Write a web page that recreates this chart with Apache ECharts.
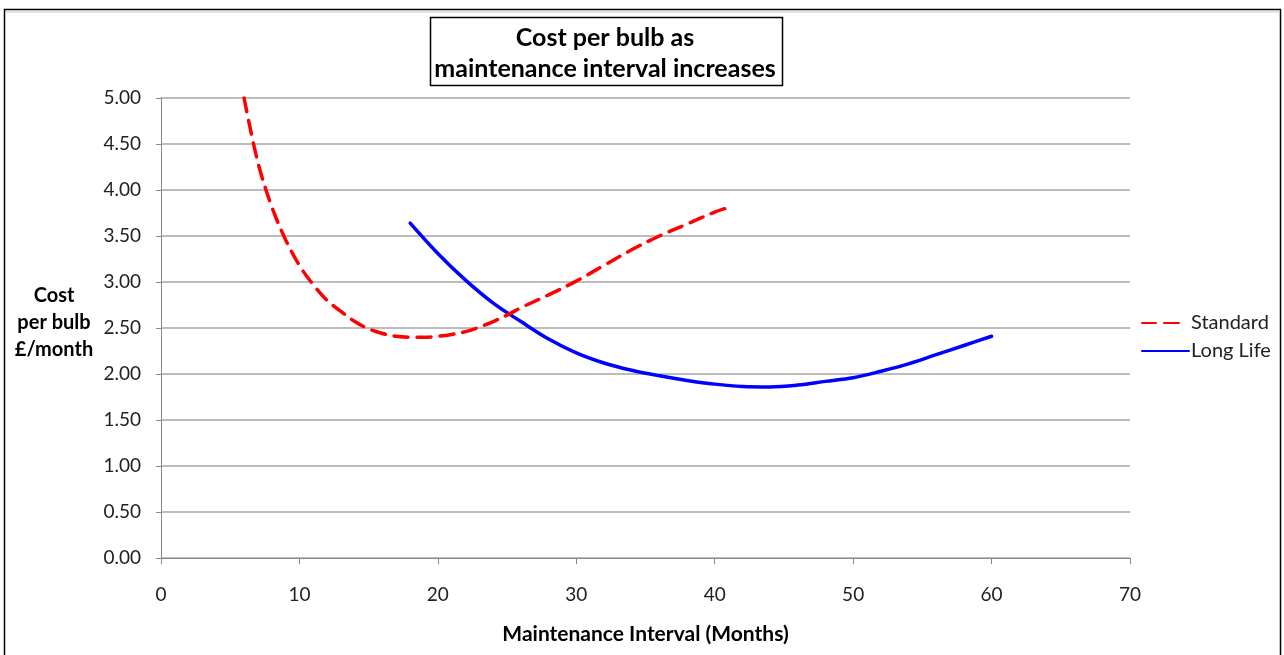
<!DOCTYPE html>
<html>
<head>
<meta charset="utf-8">
<title>Cost per bulb as maintenance interval increases</title>
<script src="https://cdn.jsdelivr.net/npm/echarts@6/dist/echarts.min.js"></script>
<style>
  html, body { margin: 0; padding: 0; background: #ffffff; overflow: hidden; }
  #chart { width: 1284px; height: 655px; }
</style>
</head>
<body>
<div id="chart"></div>
<script>
// Maintenance interval (months) and cost per bulb (£/month)
const standardMonths = [6, 7, 8, 9, 10, 11, 12, 13, 14, 15, 16, 17, 18, 19, 20, 21, 22, 23, 24, 25, 26, 28, 30, 32, 34, 36, 38, 40, 41];
const standardCost   = [5.00, 4.30, 3.82, 3.46, 3.18, 2.97, 2.80, 2.68, 2.57, 2.49, 2.44, 2.41, 2.40, 2.40, 2.41, 2.43, 2.46, 2.51, 2.57, 2.64, 2.72, 2.86, 3.01, 3.18, 3.35, 3.50, 3.63, 3.76, 3.81];

const longLifeMonths = [18, 20, 22, 24, 26, 28, 30, 32, 34, 36, 38, 40, 42, 44, 46, 48, 50, 52, 54, 56, 58, 60];
const longLifeCost   = [3.64, 3.31, 3.02, 2.77, 2.57, 2.38, 2.23, 2.12, 2.04, 1.98, 1.93, 1.89, 1.865, 1.86, 1.88, 1.92, 1.96, 2.03, 2.11, 2.21, 2.31, 2.41];

const seriesNames = ['Standard', 'Long Life'];
const titleLines = ['Cost per bulb as', 'maintenance interval increases'];
const yAxisTitle = ['Cost', 'per bulb', '£/month'];
const xAxisTitle = 'Maintenance Interval (Months)';

const pairs = (xs, ys) => xs.map((x, i) => [x, ys[i]]);

const FONT = 'Lato, "Open Sans", sans-serif';
const chart = echarts.init(document.getElementById('chart'), null, { renderer: 'canvas', width: 1284, height: 655 });

chart.setOption({
  backgroundColor: '#ffffff',
  animation: false,
  title: {
    text: titleLines.join('\n'),
    left: 600,
    top: 17,
    textAlign: 'center',
    textStyle: {
      fontFamily: FONT,
      fontSize: 25,
      fontWeight: 'bold',
      color: '#000000',
      lineHeight: 31
    }
  },
  graphic: [
    {
      type: 'rect',
      silent: true,
      shape: { x: 4.5, y: 9.5, width: 1276, height: 700 },
      style: { fill: null, stroke: '#000000', lineWidth: 1.5 }
    },
    {
      type: 'line',
      silent: true,
      shape: { x1: 6, y1: 12, x2: 1280, y2: 12 },
      style: { stroke: '#c8c8c8', lineWidth: 1 }
    },
    {
      type: 'rect',
      silent: true,
      shape: { x: 430.5, y: 17.5, width: 352, height: 68 },
      style: { fill: null, stroke: '#000000', lineWidth: 1.5 }
    },
    {
      // value-axis title, stacked over three lines left of the plot
      type: 'text',
      silent: true,
      x: 54,
      y: 322.5,
      style: {
        text: yAxisTitle.join('\n'),
        fontFamily: FONT,
        fontSize: 20,
        fontWeight: 'bold',
        fill: '#000000',
        lineHeight: 27,
        align: 'center',
        verticalAlign: 'middle'
      }
    }
  ],
  legend: {
    orient: 'vertical',
    left: 1136,
    top: 308,
    itemWidth: 47,
    itemHeight: 14,
    itemGap: 8,
    data: [
      { name: seriesNames[0], lineStyle: { type: [14, 8, 15, 20] } },
      { name: seriesNames[1] }
    ],
    itemStyle: { opacity: 0 },
    textStyle: { fontFamily: FONT, fontSize: 20, color: '#222222', padding: [0, 0, 0, -3] }
  },
  grid: {
    left: 161,
    top: 98,
    width: 969,
    height: 460,
    containLabel: false
  },
  xAxis: {
    type: 'value',
    min: 0,
    max: 70,
    interval: 10,
    name: xAxisTitle,
    nameLocation: 'middle',
    nameGap: 66,
    nameTextStyle: { fontFamily: FONT, fontSize: 21, fontWeight: 'bold', color: '#000000' },
    axisLine: { show: true, lineStyle: { color: '#888888', width: 1 } },
    axisTick: { show: true, length: 6, lineStyle: { color: '#888888' } },
    axisLabel: { fontFamily: FONT, fontSize: 19, color: '#222222', margin: 27 },
    splitLine: { show: false }
  },
  yAxis: {
    type: 'value',
    min: 0,
    max: 5,
    interval: 0.5,
    axisLine: { show: true, lineStyle: { color: '#888888', width: 1 } },
    axisTick: { show: true, inside: false, length: 5, lineStyle: { color: '#888888' } },
    axisLabel: {
      fontFamily: FONT, fontSize: 19, color: '#222222', margin: 20,
      formatter: v => v.toFixed(2)
    },
    splitLine: { show: true, lineStyle: { color: '#a6a6a6', width: 1.5 } }
  },
  series: [
    {
      name: seriesNames[0],
      type: 'line',
      data: pairs(standardMonths, standardCost),
      smooth: 0.35,
      symbol: 'none',
      itemStyle: { color: '#ff0000' },
      lineStyle: { color: '#ff0000', width: 3.5, type: [14, 9], cap: 'round' },
      z: 3
    },
    {
      name: seriesNames[1],
      type: 'line',
      data: pairs(longLifeMonths, longLifeCost),
      smooth: 0.35,
      symbol: 'none',
      itemStyle: { color: '#0000ff' },
      lineStyle: { color: '#0000ff', width: 3.5, cap: 'round' },
      z: 2
    }
  ]
});
</script>
</body>
</html>
